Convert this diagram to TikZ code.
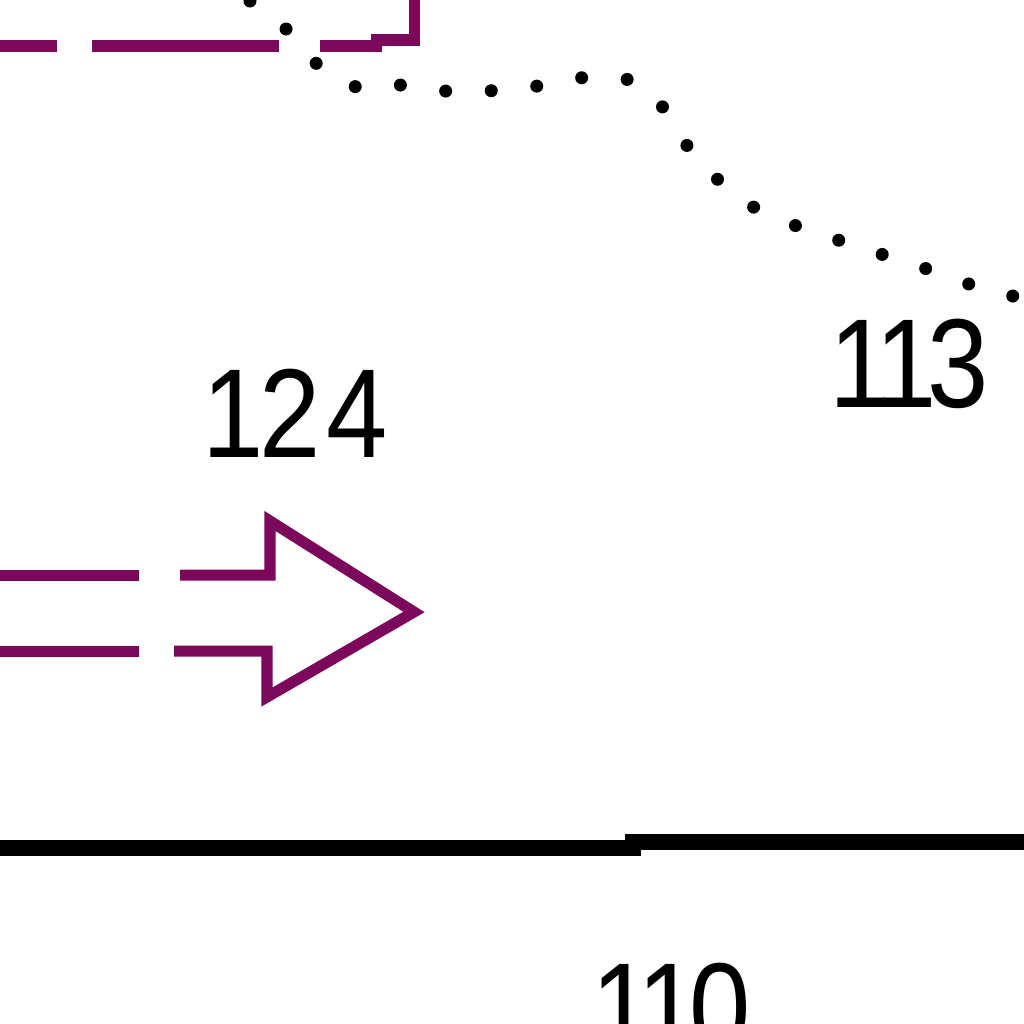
\documentclass[tikz,border=0pt]{standalone}
\usepackage{fontspec}
\setmainfont{Liberation Sans}
\definecolor{plum}{RGB}{123,8,90}
\newcommand{\tag}[1]{\scalebox{0.87}[1]{#1}}
\begin{document}
\begin{tikzpicture}[x=0.01cm,y=-0.01cm,
	every node/.style={font=\fontsize{36}{36}\selectfont,inner sep=0},
	flow/.style={draw=plum,line width=0.11cm},
	wall/.style={draw,line width=0.16cm},
	trace/.style={line width=0.13cm,line cap=round,dash pattern=on 0pt off 13pt}]
\useasboundingbox (0,0) rectangle (1024,1024);
\clip (0,0) rectangle (1024,1024);
% upper conduit
\draw[flow] (-10,46) -- (57,46);
\draw[flow] (92,46) -- (279,46);
\draw[flow] (320,46) -- (376,46) -- (376,40) -- (414,40) -- (414,-10);
% dotted outline
\draw[trace] plot[smooth,tension=0.6] coordinates {(250,1) (284,27) (317,64) (360,88) (405,85) (455,92) (500,90) (545,85) (590,77) (635,82) (665,110) (688,147) (714,176) (750,205) (794,225) (838,240) (884,255) (930,270) (975,286) (1020,298) (1060,310)};
% flow arrow
\draw[flow] (-10,575) -- (139,575);
\draw[flow] (180,575) -- (270,575) -- (270,521) -- (414,612) -- (267,697) -- (267,651) -- (174,651);
\draw[flow] (139,651) -- (-10,651);
% base line
\draw[wall] (-10,848) -- (633,848) -- (633,842) -- (1034,842);
% labels
\node (n124) at (295,413) {\tag{1\kern-0.04em 2\kern0.05em 4}};
\node (n113) at (909,364) {\tag{1\kern-0.14em 1\kern-0.08em 3}};
\node (n110) at (671,1008) {\tag{1\kern-0.14em 1\kern-0.08em 0}};
\end{tikzpicture}
\end{document}
